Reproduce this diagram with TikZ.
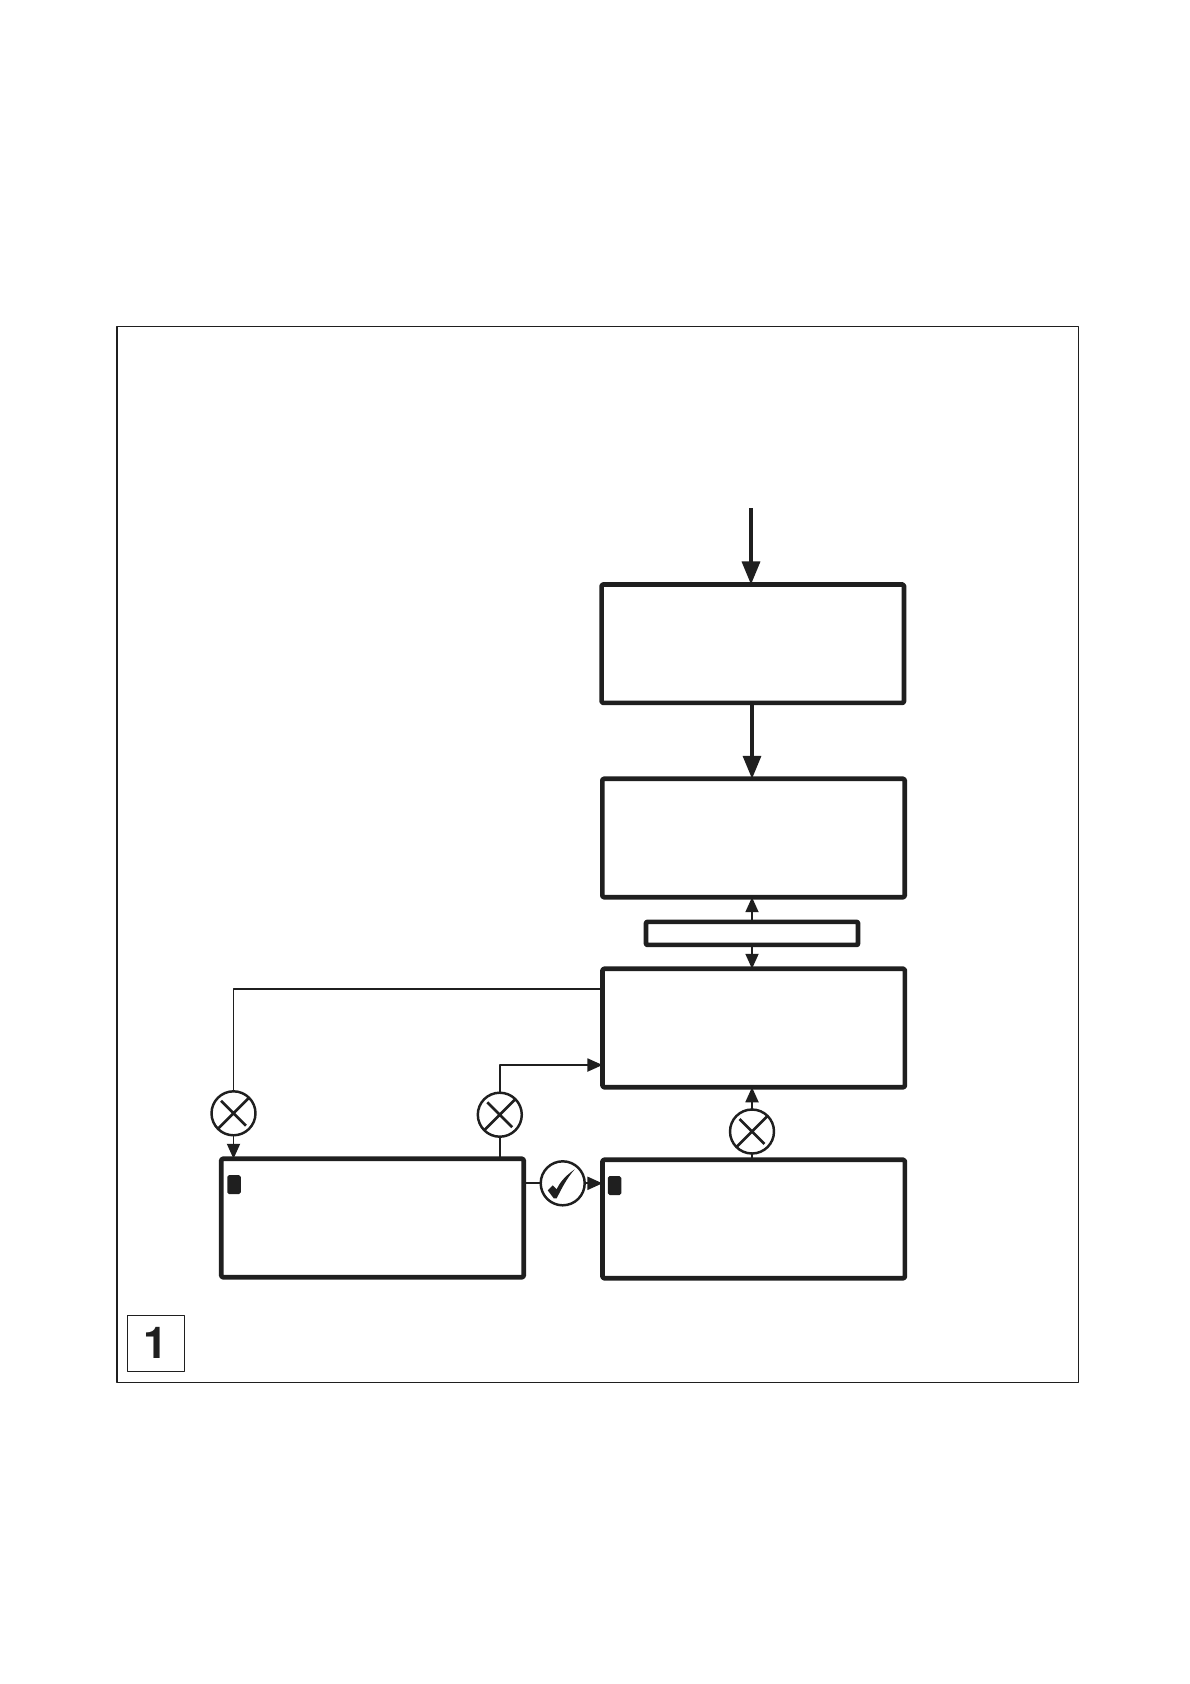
\documentclass[tikz,border=0pt]{standalone}
\usepackage{fontspec}
\setmainfont{TeX Gyre Heros}
\usetikzlibrary{arrows.meta}
\tikzset{
	bigbox/.style={draw,line width=2.6pt,minimum width=6.05cm,minimum height=2.37cm,inner sep=0pt,outer sep=0pt,rounded corners=0.8pt},
	stripbox/.style={draw,line width=2.6pt,minimum width=4.24cm,minimum height=0.46cm,inner sep=0pt,outer sep=0pt,rounded corners=0.5pt},
	marker/.style={fill=black!88,minimum width=0.27cm,minimum height=0.38cm,inner sep=0pt,rounded corners=1pt},
	signal/.style={draw,circle,line width=1.4pt,minimum size=0.88cm,inner sep=0pt,outer sep=0pt},
	thinline/.style={line width=1.05pt,-{Triangle[length=0.3cm,width=0.26cm]}},
	plainline/.style={line width=1.05pt},
	thickline/.style={line width=1.9pt,-{Triangle[length=0.46cm,width=0.36cm]}},
}
\begin{document}
\begin{tikzpicture}[x=0.02cm,y=-0.02cm,line join=round,color=black!88]
		\useasboundingbox (0,0) rectangle (1190,1684);
		\fill[white] (0,0) rectangle (1190,1684);
		\draw[line width=1.1pt] (117,326.5) rectangle (1078.5,1382.5);
		% Boxes
		\node[bigbox] (boxa) at (752.8,643.7) {};
		\node[bigbox] (boxb) at (753.5,838) {};
		\node[stripbox] (strip) at (752,933.4) {};
		\node[bigbox] (boxc) at (753.7,1028) {};
		\node[bigbox] (boxd) at (372.5,1218) {};
		\node[bigbox] (boxe) at (753.7,1219) {};
		\node[marker] (markd) at (234,1184.5) {};
		\node[marker] (marke) at (614.5,1185.5) {};
		% Signals
		\node[signal] (crossa) at (233.5,1113.3) {};
		\node[signal] (crossb) at (499.8,1114.7) {};
		\node[signal] (crossc) at (752,1131.5) {};
		\node[signal] (check) at (562.7,1183.3) {};
		\foreach \n in {crossa,crossb,crossc}
			\draw[line width=1.5pt,shorten >=2.5pt,shorten <=2.5pt] (\n.45)--(\n.225) (\n.135)--(\n.315);
		\fill[shift={(check.center)}] (-15,7)--(-10,2)--(-6,6) .. controls (-2,-3) and (5,-9) .. (12,-14) .. controls (4,-5) and (-1,5) .. (-6,15)--(-9,15)--cycle;
		% Connectors
		\coordinate (start) at (751,508);
		\coordinate (feedc) at (boxc.west |- 0,989);
		\coordinate (feedb) at (boxc.west |- 0,1065);
		\draw[thickline] (start)--(start |- boxa.north);
		\draw[thickline] (752,0 |- boxa.south)--(752,0 |- boxb.north);
		\draw[thinline] (strip.north)--(strip.north |- boxb.south);
		\draw[thinline] (strip.south)--(strip.south |- boxc.north);
		\draw[plainline] (feedc)-|(crossa.north);
		\draw[thinline] (crossa.south)--(crossa.south |- boxd.north);
		\draw[plainline] (crossb.south)--(crossb.south |- boxd.north);
		\draw[thinline] (crossb.north)|-(feedb);
		\draw[plainline] (crossc.south)--(crossc.south |- boxe.north);
		\draw[thinline] (crossc.north)--(crossc.north |- boxc.south);
		\draw[plainline] (boxd.east |- check.west)--(check.west);
		\draw[thinline] (check.east)--(boxe.west |- check.east);
		% Page number box
		\node[draw,line width=0.6pt,minimum width=1.14cm,minimum height=1.12cm,inner sep=0pt,font=\fontsize{25}{25}\selectfont\bfseries] (number) at (156,1343.3) {1};
\end{tikzpicture}
\end{document}
